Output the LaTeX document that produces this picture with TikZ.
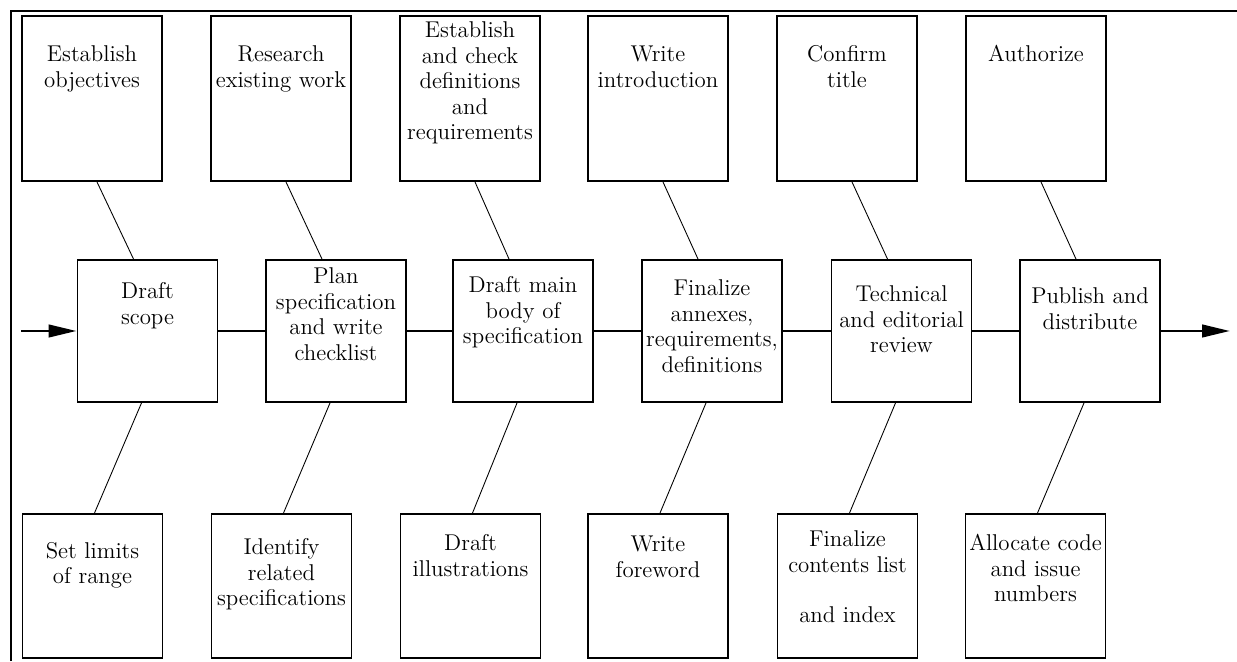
\documentclass[tikz,border=0pt]{standalone}
\usepackage{tikz}
\usetikzlibrary{arrows.meta}

\begin{document}
\begin{tikzpicture}[
  box/.style={
    rectangle, draw=black, line width=1.1pt, inner sep=0pt,
    minimum width=2.8cm, text width=2.8cm, align=center,
    font=\fontsize{13}{14.5}\selectfont},
  upbox/.style={box, text height=#1, text depth=3.3cm-#1},
  stagebox/.style={box, text height=#1, text depth=2.84cm-#1},
  lowbox/.style={box, text height=#1, text depth=2.88cm-#1},
  flow/.style={line width=1.1pt},
  arr/.style={-{Triangle[length=0.56cm,width=0.25cm]}, line width=1.6pt},
  tie/.style={line width=0.5pt},
  frame/.style={line width=1.1pt}
]
% ── Frame ──
\useasboundingbox (0,0) rectangle (24.74,13.22);
\draw[frame] (0.22,0) -- (0.22,13.0) -- (24.74,13.0);
% ── Upper tasks ──
\node[upbox=0.92cm] (U1) at (1.84,11.25)  {Establish\\objectives};
\node[upbox=0.92cm] (U2) at (5.62,11.25)  {Research\\existing work};
\node[upbox=0.44cm] (U3) at (9.40,11.25)  {Establish\\and check\\definitions\\and\\requirements};
\node[upbox=0.92cm] (U4) at (13.16,11.25) {Write\\introduction};
\node[upbox=0.92cm] (U5) at (16.94,11.25) {Confirm\\title};
\node[upbox=0.92cm] (U6) at (20.72,11.25) {Authorize};
% ── Main stages ──
\node[stagebox=0.78cm] (S1) at (2.95,6.6)  {Draft\\scope};
\node[stagebox=0.48cm] (S2) at (6.72,6.6)  {Plan\\specification\\and write\\checklist};
\node[stagebox=0.66cm] (S3) at (10.46,6.6) {Draft main\\body of\\specification};
\node[stagebox=0.72cm] (S4) at (14.24,6.6) {Finalize\\annexes,\\requirements,\\definitions};
\node[stagebox=0.84cm] (S5) at (18.03,6.6) {Technical\\and editorial\\review};
\node[stagebox=0.88cm] (S6) at (21.80,6.6) {Publish and\\distribute};
% ── Lower tasks ──
\node[lowbox=0.88cm] (L1) at (1.85,1.5)  {Set limits\\of range};
\node[lowbox=0.82cm] (L2) at (5.63,1.5)  {Identify\\related\\specifications};
\node[lowbox=0.74cm] (L3) at (9.41,1.5)  {Draft\\illustrations};
\node[lowbox=0.76cm] (L4) at (13.16,1.5) {Write\\foreword};
\node[lowbox=0.66cm] (L5) at (16.95,1.5) {Finalize\\contents list\\[14pt]and index};
\node[lowbox=0.74cm] (L6) at (20.71,1.5) {Allocate code\\and issue\\numbers};
% ── Main flow ──
\coordinate (start) at (0.42,6.6);
\coordinate (finish) at (24.6,6.6);
\draw[arr]  (start) -- (S1.west);
\draw[flow] (S1.east) -- (S2.west);
\draw[flow] (S2.east) -- (S3.west);
\draw[flow] (S3.east) -- (S4.west);
\draw[flow] (S4.east) -- (S5.west);
\draw[flow] (S5.east) -- (S6.west);
\draw[arr]  (S6.east) -- (finish);
% ── Ties to upper tasks ──
\draw[tie] ([xshift=0.1cm]U1.south) -- ([xshift=-0.28cm]S1.north);
\draw[tie] ([xshift=0.1cm]U2.south) -- ([xshift=-0.28cm]S2.north);
\draw[tie] ([xshift=0.1cm]U3.south) -- ([xshift=-0.28cm]S3.north);
\draw[tie] ([xshift=0.1cm]U4.south) -- ([xshift=-0.28cm]S4.north);
\draw[tie] ([xshift=0.1cm]U5.south) -- ([xshift=-0.28cm]S5.north);
\draw[tie] ([xshift=0.1cm]U6.south) -- ([xshift=-0.28cm]S6.north);
% ── Ties to lower tasks ──
\draw[tie] ([xshift=-0.12cm]S1.south) -- ([xshift=0.04cm]L1.north);
\draw[tie] ([xshift=-0.12cm]S2.south) -- ([xshift=0.04cm]L2.north);
\draw[tie] ([xshift=-0.12cm]S3.south) -- ([xshift=0.04cm]L3.north);
\draw[tie] ([xshift=-0.12cm]S4.south) -- ([xshift=0.04cm]L4.north);
\draw[tie] ([xshift=-0.12cm]S5.south) -- ([xshift=0.04cm]L5.north);
\draw[tie] ([xshift=-0.12cm]S6.south) -- ([xshift=0.04cm]L6.north);
\end{tikzpicture}
\end{document}
